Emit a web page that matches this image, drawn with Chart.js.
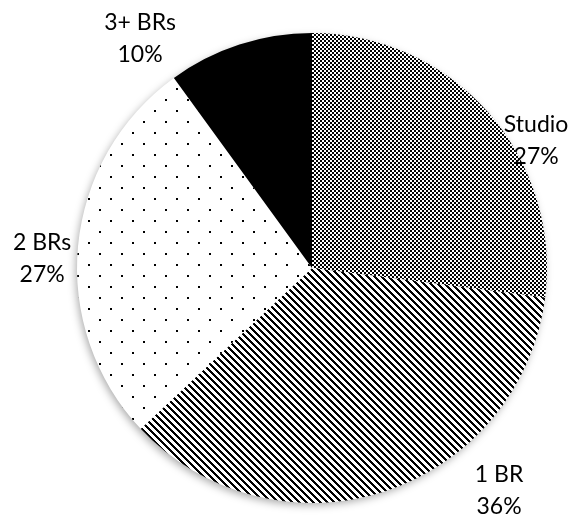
<!DOCTYPE html>
<html>
<head>
<meta charset="utf-8">
<script src="https://cdn.jsdelivr.net/npm/chart.js"></script>
<style>
  html, body { margin: 0; padding: 0; background: #fff; }
  #wrap { width: 572px; height: 523px; }
</style>
</head>
<body>
<div id="wrap"><canvas id="pie"></canvas></div>
<script>
const categories = ['Studio', '1 BR', '2 BRs', '3+ BRs'];
const shares = [27, 36, 27, 10];

// label placement: angle shift (deg) from slice middle and distance past the rim (px)
const labelTweak = [
  { dAngle: 11.7, out: 23 },
  { dAngle: -22, out: 56 },
  { dAngle: -3.5, out: 35 },
  { dAngle: -18.8, out: 52 }
];

function makePattern(kind) {
  const c = document.createElement('canvas');
  const g = c.getContext('2d');
  if (kind === 'checker') {
    c.width = 4; c.height = 4;
    g.fillStyle = '#fff'; g.fillRect(0, 0, 4, 4);
    g.fillStyle = '#000';
    g.fillRect(0, 0, 2, 2); g.fillRect(2, 2, 2, 2);
  } else if (kind === 'diag') {
    c.width = 7; c.height = 7;
    g.fillStyle = '#fff'; g.fillRect(0, 0, 7, 7);
    g.fillStyle = '#000';
    for (let i = 0; i < 7; i++) {
      g.fillRect(i, i, 2, 2);
    }
    g.fillRect(0, 6, 1, 1);
    g.fillRect(6, 0, 1, 1);
  } else if (kind === 'dots') {
    c.width = 22; c.height = 22;
    g.fillStyle = '#fff'; g.fillRect(0, 0, 22, 22);
    g.fillStyle = '#000';
    g.fillRect(0, 0, 2, 2); g.fillRect(11, 11, 2, 2);
  } else {
    return '#000';
  }
  return document.getElementById('pie').getContext('2d').createPattern(c, 'repeat');
}

const fills = [makePattern('checker'), makePattern('diag'), makePattern('dots'), '#000'];

// soft shadow under the whole pie
const pieShadow = {
  id: 'pieShadow',
  beforeDatasetsDraw(chart) {
    const arc = chart.getDatasetMeta(0).data[0];
    if (!arc) return;
    const p = arc.getProps(['x', 'y', 'outerRadius'], true);
    const ctx = chart.ctx;
    ctx.save();
    ctx.shadowColor = 'rgba(0,0,0,0.35)';
    ctx.shadowBlur = 8;
    ctx.shadowOffsetX = -2;
    ctx.shadowOffsetY = 3;
    ctx.fillStyle = '#fff';
    ctx.beginPath();
    ctx.arc(p.x, p.y, p.outerRadius - 1, 0, Math.PI * 2);
    ctx.fill();
    ctx.restore();
  }
};

const outsideLabels = {
  id: 'outsideLabels',
  afterDatasetsDraw(chart) {
    const ctx = chart.ctx;
    const meta = chart.getDatasetMeta(0);
    ctx.save();
    ctx.font = '23px Lato, "Liberation Sans", sans-serif';
    ctx.fillStyle = '#000';
    ctx.textAlign = 'center';
    ctx.textBaseline = 'middle';
    meta.data.forEach((arc, i) => {
      const p = arc.getProps(['x', 'y', 'startAngle', 'endAngle', 'outerRadius'], true);
      const mid = (p.startAngle + p.endAngle) / 2 + labelTweak[i].dAngle * Math.PI / 180;
      const r = p.outerRadius + labelTweak[i].out;
      const lx = p.x + Math.cos(mid) * r;
      const ly = p.y + Math.sin(mid) * r;
      ctx.fillText(categories[i], lx, ly - 16);
      ctx.fillText(shares[i] + '%', lx, ly + 16);
    });
    ctx.restore();
  }
};

new Chart(document.getElementById('pie'), {
  type: 'pie',
  data: {
    labels: categories,
    datasets: [{
      data: shares,
      backgroundColor: fills,
      borderWidth: 0
    }]
  },
  options: {
    responsive: true,
    maintainAspectRatio: false,
    animation: false,
    layout: { padding: { left: 77, right: 25, top: 33, bottom: 20 } },
    plugins: {
      legend: { display: false },
      tooltip: { enabled: false }
    }
  },
  plugins: [pieShadow, outsideLabels]
});
</script>
</body>
</html>
